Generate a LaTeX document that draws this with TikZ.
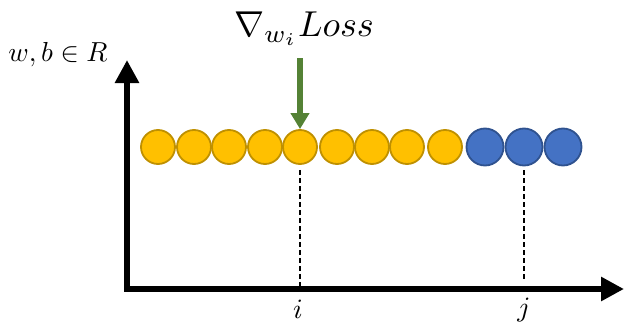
\documentclass[tikz,border=0pt]{standalone}
\usetikzlibrary{arrows.meta}
\definecolor{ygold}{HTML}{FFC000}
\definecolor{ygoldd}{HTML}{BF9000}
\definecolor{bblue}{HTML}{4472C4}
\definecolor{bblued}{HTML}{2F528F}
\definecolor{ggreen}{HTML}{548235}
\begin{document}
\begin{tikzpicture}[x=1pt,y=-1pt,
  ycirc/.style={circle,draw=ygoldd,fill=ygold,line width=1.8pt,minimum size=34pt,inner sep=0pt},
  bcirc/.style={circle,draw=bblued,fill=bblue,line width=1.8pt,minimum size=37pt,inner sep=0pt},
  axisline/.style={line width=6pt,line join=miter},
  guide/.style={line width=1.4pt,dash pattern=on 5pt off 3pt},
  lbl/.style={inner sep=0pt}]
\useasboundingbox (0,0) rectangle (630,324);
% axes
\coordinate (ytop) at (127,60);
\coordinate (orig) at (127,289);
\coordinate (xend) at (624,289);
\draw[axisline,{Triangle[width=23pt,length=23pt]}-{Triangle[width=23pt,length=23pt]}] (ytop) -- (orig) -- (xend);
% circles
\foreach \x [count=\k] in {158,194,229,265,300,337,372,407,445}
  \node[ycirc] (y\k) at (\x,147) {};
\foreach \x [count=\k] in {485,524,563}
  \node[bcirc] (b\k) at (\x,147) {};
% dashed guides
\coordinate (ibase) at (300,289);
\coordinate (jbase) at (524,281);
\draw[guide] ([yshift=-5pt]y5.south) -- (ibase);
\draw[guide] ([yshift=-4pt]b2.south) -- (jbase);
% gradient arrow
\coordinate (gtop) at (300,58);
\draw[ggreen,line width=6pt,-{Triangle[width=18pt,length=16pt]}] (gtop) -- (y5.north);
% labels
\node[lbl,scale=3.6] (loss) at (304,29) {$\nabla_{w_i}Loss$};
\node[lbl,scale=2.75] (wb) at (58,55) {$w,b\in R$};
\node[lbl,scale=2.8] (il) at (298,309) {$i$};
\node[lbl,scale=2.8] (jl) at (524,310) {$j$};
\end{tikzpicture}
\end{document}
